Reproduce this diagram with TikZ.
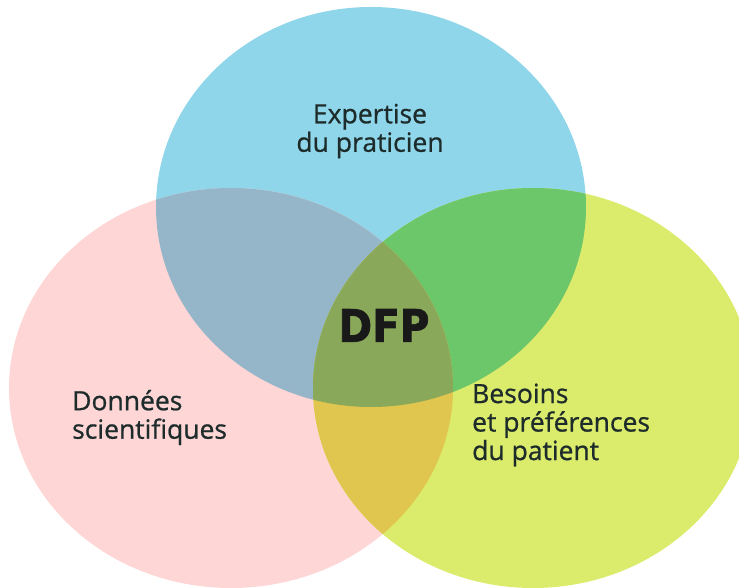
\documentclass[tikz,border=0pt]{standalone}
\usepackage{fontspec}
\setmainfont{Open Sans}[FakeBold=0.8]
\newfontfamily\dfpfont{DejaVu Sans Condensed}[FakeBold=1.5]
\definecolor{praticien}{HTML}{8FD6EA}
\definecolor{donnees}{HTML}{FED6D6}
\definecolor{patient}{HTML}{DBEB6B}
\definecolor{bluepink}{HTML}{95B6C9}
\definecolor{bluegreen}{HTML}{6CC66A}
\definecolor{pinkgreen}{HTML}{E0C54E}
\definecolor{allthree}{HTML}{8AA85A}
\definecolor{inkgray}{HTML}{1E2B2B}
\newcommand{\praticienset}{(371,381) ellipse [x radius=215, y radius=200]}
\newcommand{\donneesset}{(231,200) ellipse [x radius=222, y radius=200]}
\newcommand{\patientset}{(533,200) ellipse [x radius=220, y radius=200]}
\tikzstyle{venntext} = [text=inkgray, inner sep=0pt, font=\fontsize{26.5}{28.5}\selectfont]
\tikzstyle{centretext} = [text=black!90, inner sep=0pt, font=\dfpfont\bfseries\fontsize{45}{50}\selectfont]

\begin{document}
\begin{tikzpicture}[x=1pt, y=1pt]
   \useasboundingbox (0,0) rectangle (739,588);
   % circles
   \fill[praticien] \praticienset;
   \fill[donnees] \donneesset;
   \fill[patient] \patientset;

   % overlaps
   \begin{scope} \clip \praticienset; \fill[bluepink] \donneesset; \end{scope}
   \begin{scope} \clip \praticienset; \fill[bluegreen] \patientset; \end{scope}
   \begin{scope} \clip \donneesset; \fill[pinkgreen] \patientset; \end{scope}
   \begin{scope} \clip \praticienset; \clip \donneesset; \fill[allthree] \patientset; \end{scope}

   % labels
   \node[venntext, align=center] (expertise) at (370,457) {Expertise\\du praticien};
   \node[venntext, align=left, anchor=west] (donnees) at (72,170.5) {Données\\scientifiques};
   \node[venntext, align=left, anchor=west] (besoins) at (472,163) {Besoins\\et préférences\\du patient};
   \node[centretext] (dfp) at (384,262.5) {DFP};
\end{tikzpicture}
\end{document}
